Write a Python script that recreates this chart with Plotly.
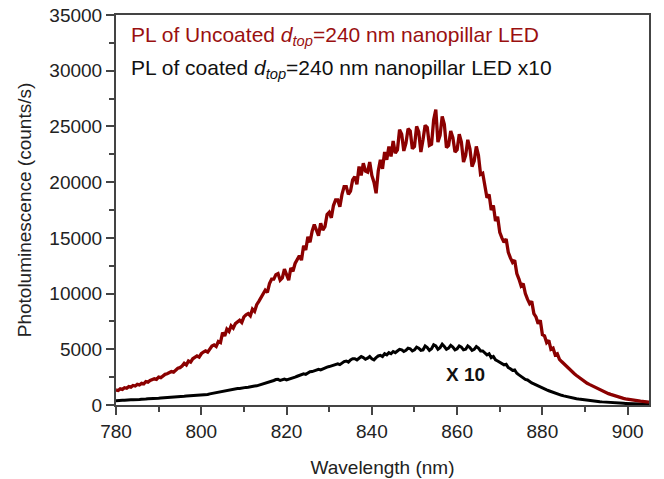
import numpy as np
import plotly.graph_objects as go

# Wavelength grid (nm), 0.5 nm sampling from 780 to 905
wavelength = np.arange(780, 905.25, 0.5)

# PL of uncoated d_top = 240 nm nanopillar LED (counts/s), two samples per nm
pl_uncoated = [
    # 780-789
    1350, 1300, 1450, 1400, 1550, 1500, 1650, 1600, 1750, 1700,
    1850, 1800, 1950, 1900, 2100, 2050, 2200, 2300, 2350, 2300,
    # 790-799
    2500, 2450, 2650, 2750, 2800, 2900, 3000, 2950, 3150, 3300,
    3350, 3500, 3750, 3600, 3950, 3850, 4150, 4300, 4400, 4300,
    # 800-809
    4600, 4750, 4850, 4750, 5100, 5300, 5400, 5250, 5700, 5600,
    6500, 6200, 6800, 6600, 7100, 6900, 7300, 7500, 7600, 7400,
    # 810-819
    7900, 8100, 8200, 8000, 8600, 8400, 9000, 9300, 9600, 9900,
    10300, 10100, 10900, 11300, 11300, 11700, 11800, 11200, 11400, 12200,
    # 820-829
    11600, 11200, 12300, 12000, 12700, 13100, 13400, 13000, 14300, 13900,
    15100, 14600, 15600, 16200, 15700, 15200, 16300, 15700, 16000, 17100,
    # 830-839
    17300, 16800, 17900, 18400, 18400, 17800, 18900, 19600, 19600, 18900,
    19200, 20200, 20500, 19800, 21400, 20600, 21700, 21000, 20900, 21800,
    # 840-849
    20600, 20000, 19000, 21000, 22000, 21200, 22700, 22000, 23200, 22300,
    23700, 22600, 22900, 24700, 24300, 22800, 23500, 24800, 24600, 23000,
    # 850-859
    23200, 25000, 24500, 22700, 23800, 25100, 24900, 23300, 23400, 25600,
    26500, 23600, 24200, 25900, 25200, 23100, 23300, 24600, 24000, 22700,
    # 860-869
    22900, 24300, 23600, 21800, 22400, 23800, 23000, 21400, 21900, 23200,
    22400, 20700, 20800, 19700, 18600, 18900, 17500, 17900, 16500, 16900,
    # 870-879
    15500, 15000, 14600, 14900, 13700, 13200, 12800, 13000, 11800, 11300,
    10700, 10900, 10000, 9500, 9100, 9300, 8200, 7900, 7300, 7600,
    # 880-889
    6300, 6200, 5600, 5800, 5000, 5100, 4500, 4600, 4100, 3900,
    3700, 3500, 3300, 3100, 2950, 2800, 2650, 2500, 2350, 2200,
    # 890-899
    2050, 1950, 1850, 1750, 1650, 1550, 1450, 1350, 1250, 1180,
    1100, 1020, 950, 880, 820, 760, 700, 650, 600, 560,
    # 900-905
    520, 480, 450, 420, 390, 360, 340, 320, 300, 280,
    260,
]

# PL of coated d_top = 240 nm nanopillar LED, multiplied by 10 (counts/s)
pl_coated_x10 = [
    # 780-789
    390, 380, 410, 420, 430, 420, 450, 460, 470, 460,
    490, 500, 520, 510, 540, 560, 560, 550, 580, 600,
    # 790-799
    600, 620, 630, 650, 660, 650, 690, 710, 720, 740,
    750, 770, 780, 800, 810, 830, 850, 870, 880, 920,
    # 800-809
    920, 950, 960, 940, 1000, 1040, 1050, 1090, 1100, 1150,
    1200, 1250, 1300, 1330, 1380, 1420, 1430, 1480, 1480, 1530,
    # 810-819
    1550, 1580, 1600, 1650, 1650, 1700, 1720, 1780, 1800, 1860,
    1900, 1980, 2050, 2120, 2200, 2280, 2300, 2200, 2250, 2330,
    # 820-829
    2250, 2300, 2350, 2420, 2500, 2580, 2650, 2720, 2800, 2750,
    2900, 2980, 3000, 3080, 3100, 3200, 3150, 3250, 3300, 3400,
    # 830-839
    3450, 3520, 3550, 3650, 3700, 3620, 3800, 3900, 3950, 3850,
    4050, 4150, 4150, 4050, 4200, 4350, 4250, 4100, 4200, 4350,
    # 840-849
    4150, 4050, 4250, 4400, 4450, 4350, 4600, 4500, 4700, 4600,
    4800, 4700, 4850, 5000, 4950, 4800, 4900, 5100, 5050, 4850,
    # 850-859
    4950, 5200, 5100, 4900, 4950, 5300, 5150, 4900, 5050, 5400,
    5300, 5000, 5150, 5450, 5250, 5000, 5100, 5350, 5200, 4950,
    # 860-869
    5050, 5300, 5200, 4950, 5000, 5300, 5150, 4900, 5000, 5250,
    5100, 4850, 4850, 4700, 4500, 4600, 4250, 4350, 4050, 3950,
    # 870-879
    3850, 3700, 3600, 3650, 3350, 3250, 3100, 3150, 2850, 2700,
    2550, 2450, 2300, 2250, 2100, 1980, 1900, 1800, 1700, 1600,
    # 880-889
    1500, 1420, 1350, 1280, 1200, 1130, 1050, 990, 920, 870,
    820, 770, 720, 680, 640, 600, 570, 540, 510, 480,
    # 890-899
    450, 420, 400, 380, 350, 330, 310, 300, 280, 260,
    250, 230, 220, 200, 190, 180, 170, 160, 150, 140,
    # 900-905
    130, 120, 115, 108, 100, 95, 90, 85, 80, 75,
    70,
]

x_tick_vals = [780, 800, 820, 840, 860, 880, 900]
y_tick_vals = [0, 5000, 10000, 15000, 20000, 25000, 30000, 35000]

RED = "#8b0000"
AXIS = "#444444"
FONT = "Liberation Sans, Arial, sans-serif"

fig = go.Figure()
fig.add_trace(go.Scatter(
    x=wavelength, y=pl_coated_x10, mode="lines",
    line=dict(color="black", width=3), showlegend=False,
))
fig.add_trace(go.Scatter(
    x=wavelength, y=pl_uncoated, mode="lines",
    line=dict(color=RED, width=3.3), showlegend=False,
))

axis_common = dict(
    showline=True, linecolor=AXIS, linewidth=2, mirror=True,
    ticks="outside", tickcolor=AXIS, tickwidth=1.5, ticklen=8,
    showgrid=False, zeroline=False, automargin=False,
    tickfont=dict(family=FONT, size=19, color="#222222"),
)

fig.update_xaxes(
    range=[780, 905], tickvals=x_tick_vals,
    minor=dict(dtick=10, tick0=780, ticks="outside", ticklen=5,
               tickcolor=AXIS, tickwidth=1.5),
    title=dict(text="Wavelength (nm)", font=dict(family=FONT, size=19, color="#222222"),
               standoff=20),
    **axis_common,
)
fig.update_yaxes(
    range=[0, 35000], tickvals=y_tick_vals, tickformat="d",
    minor=dict(dtick=2500, tick0=0, ticks="outside", ticklen=5,
               tickcolor=AXIS, tickwidth=1.5),
    title=dict(text="Photoluminescence (counts/s)",
               font=dict(family=FONT, size=19, color="#222222"), standoff=13),
    **axis_common,
)

fig.add_annotation(
    x=0.024, y=0.946, xref="paper", yref="paper", xanchor="left", yanchor="middle",
    text="PL of Uncoated <i>d</i><sub><i>top</i></sub>=240 nm nanopillar LED",
    showarrow=False, font=dict(family=FONT, size=21, color="#9a1010"),
)
fig.add_annotation(
    x=0.024, y=0.862, xref="paper", yref="paper", xanchor="left", yanchor="middle",
    text="PL of coated <i>d</i><sub><i>top</i></sub>=240 nm nanopillar LED x10",
    showarrow=False, font=dict(family=FONT, size=21, color="#111111"),
)
fig.add_annotation(
    x=862, y=2700, xref="x", yref="y", xanchor="center", yanchor="middle",
    text="<b>X 10</b>", showarrow=False,
    font=dict(family=FONT, size=19, color="#111111"),
)

fig.update_layout(
    width=664, height=479,
    margin=dict(l=116, r=15, t=15, b=74),
    paper_bgcolor="white", plot_bgcolor="white",
)

fig.write_html("out.html")
